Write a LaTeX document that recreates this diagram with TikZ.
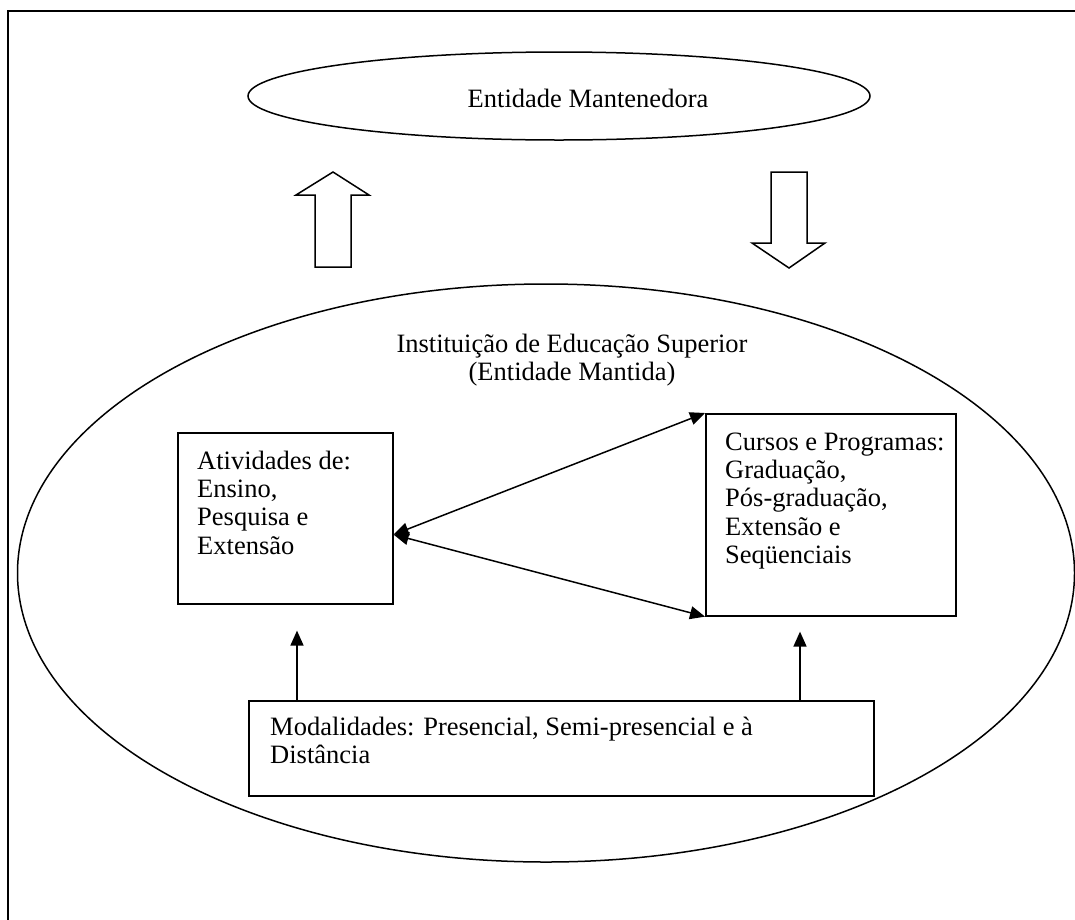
\documentclass[tikz,border=0pt]{standalone}
\usepackage{fontspec}
\setmainfont{Liberation Serif}
\usetikzlibrary{arrows.meta,shapes.geometric}
\newcommand{\firstln}{\rule{0pt}{22pt}}
\begin{document}
\begin{tikzpicture}[x=1pt,y=-1pt,
  oval/.style={draw,ellipse,line width=1.5pt,inner sep=0pt},
  boxnode/.style={draw,line width=1.6pt,anchor=north west,inner sep=0pt},
  txt/.style={font=\fontsize{26.5}{28.3}\selectfont,inner sep=0pt,align=left},
  ctxt/.style={font=\fontsize{26.5}{28.3}\selectfont,inner sep=0pt,align=center},
  conn/.style={line width=1.5pt,-{Triangle[length=15pt,width=13pt]}},
  dconn/.style={line width=1.5pt,{Triangle[length=15pt,width=13pt]}-{Triangle[length=15pt,width=13pt]}},
  blockarrow/.style={line width=1.5pt,line join=miter}
]
\useasboundingbox (0,0) rectangle (1075,919);
\begin{scope}
\clip (0,0) rectangle (1075,919);
\draw[line width=2.2pt] (8,11) rectangle (1090,930);
\node[oval,minimum width=1057,minimum height=578] (ies) at (546,573) {};
\end{scope}

\node[oval,minimum width=622,minimum height=88] (mant) at (559,96) {};
\node[ctxt,anchor=north] (manttxt) at (588,85) {\firstln Entidade Mantenedora};

\draw[blockarrow] (315,267) -- (315,195) -- (296,195) -- (333,172) -- (369,195) -- (351,195) -- (351,267) -- cycle;
\draw[blockarrow] (771,172) -- (771,243) -- (752,243) -- (789,268) -- (825,243) -- (807,243) -- (807,172) -- cycle;

\node[ctxt,anchor=north] (iestitle) at (572,330) {\firstln Instituição de Educação Superior\\(Entidade Mantida)};

\node[boxnode,minimum width=215,minimum height=171] (ativ) at (177,432) {};
\node[txt,anchor=north west] (ativtxt) at (197,447) {\firstln Atividades de:\\Ensino,\\Pesquisa e\\Extensão};

\node[boxnode,minimum width=250,minimum height=202] (cursos) at (705,413) {};
\node[txt,anchor=north west] (cursostxt) at (725,428) {\firstln Cursos e Programas:\\Graduação,\\Pós-graduação,\\Extensão e\\Seqüenciais};

\node[boxnode,minimum width=625,minimum height=95] (modal) at (248,700) {};
\node[txt,anchor=north west] (modaltxt) at (270,713) {\firstln Modalidades: Presencial, Semi-presencial e à\\Distância};

\draw[dconn] ([yshift=70pt]ativ.south east) -- (cursos.north west);
\draw[dconn] ([yshift=70pt]ativ.south east) -- (cursos.south west);

\draw[conn] ([xshift=49pt]modal.north west) -- ([xshift=120pt,yshift=-26pt]ativ.south west);
\draw[conn] ([xshift=552pt]modal.north west) -- ([xshift=95pt,yshift=-15pt]cursos.south west);
\end{tikzpicture}
\end{document}
